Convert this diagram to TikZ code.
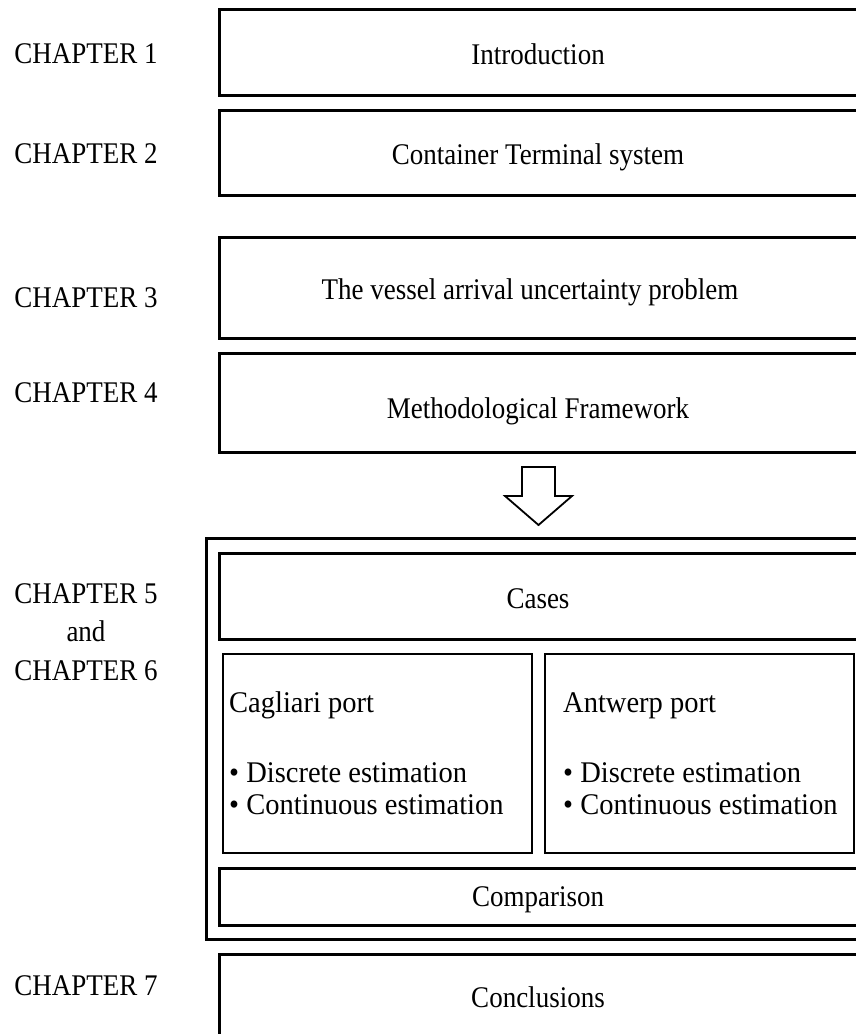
\documentclass[tikz,border=0pt]{standalone}
\usepackage{fontspec}
\setmainfont[FakeStretch=0.9]{Liberation Serif}
\newfontfamily\widerserif[FakeStretch=0.95]{Liberation Serif}
\begin{document}
\begin{tikzpicture}[x=1pt,y=-1pt,
  box/.style={draw, line width=3pt, inner sep=0pt},
  subbox/.style={draw, line width=2.5pt, inner sep=0pt},
  txt/.style={font=\fontsize{30}{36}\selectfont, inner sep=0pt, anchor=base},
  ltxt/.style={txt, anchor=base west, font=\fontsize{30}{36}\widerserif},
  chap/.style={txt}]
\useasboundingbox (0,0) rectangle (856,1034);

% chapter boxes (right edges run off the page)
\node[box, minimum width=639pt, minimum height=86pt]  (intro) at (538.5,52) {};
\node[box, minimum width=639pt, minimum height=85pt]  (cts)   at (538.5,152.5) {};
\node[box, minimum width=639pt, minimum height=101pt] (vaup)  at (538.5,287.5) {};
\node[box, minimum width=639pt, minimum height=99pt]  (mf)    at (538.5,402.5) {};

% block arrow down to the case studies
\draw[line width=1.8pt, fill=white]
  (522,467) -- (555,467) -- (555,496) -- (572,496) -- (538.5,525)
  -- (505,496) -- (522,496) -- cycle;

% case studies group
\node[box, minimum width=660pt, minimum height=401pt] (group) at (536,738.5) {};
\node[box, minimum width=639pt, minimum height=86pt]  (cases) at (538.5,596) {};
\node[subbox, minimum width=309pt, minimum height=199pt] (cag) at (377.5,753.5) {};
\node[subbox, minimum width=309pt, minimum height=199pt] (ant) at (699.5,753.5) {};
\node[box, minimum width=639pt, minimum height=57pt]  (comp)  at (538.5,896.5) {};
\node[box, minimum width=639pt, minimum height=120pt] (concl) at (538.5,1014) {};

% chapter labels
\node[chap] (c1) at (86,63) {CHAPTER 1};
\node[chap] (c2) at (86,163) {CHAPTER 2};
\node[chap] (c3) at (86,307) {CHAPTER 3};
\node[chap] (c4) at (86,402) {CHAPTER 4};
\node[chap] (c5) at (86,603) {CHAPTER 5};
\node[chap] (cand) at (86,641) {and};
\node[chap] (c6) at (86,680) {CHAPTER 6};
\node[chap] (c7) at (86,995) {CHAPTER 7};

% box titles
\node[txt] (tintro) at (538,64) {Introduction};
\node[txt] (tcts)   at (538,164) {Container Terminal system};
\node[txt] (tvaup)  at (530,299) {The vessel arrival uncertainty problem};
\node[txt] (tmf)    at (538,418) {Methodological Framework};
\node[txt] (tcases) at (538,608) {Cases};
\node[txt] (tcomp)  at (538,906) {Comparison};
\node[txt] (tconcl) at (538,1007) {Conclusions};

% case contents
\node[ltxt] (tcag)  at (229,712) {Cagliari port};
\node[ltxt] (tcag1) at (229,782) {• Discrete estimation};
\node[ltxt] (tcag2) at (229,814) {• Continuous estimation};
\node[ltxt] (tant)  at (563,712) {Antwerp port};
\node[ltxt] (tant1) at (563,782) {• Discrete estimation};
\node[ltxt] (tant2) at (563,814) {• Continuous estimation};
\end{tikzpicture}
\end{document}
